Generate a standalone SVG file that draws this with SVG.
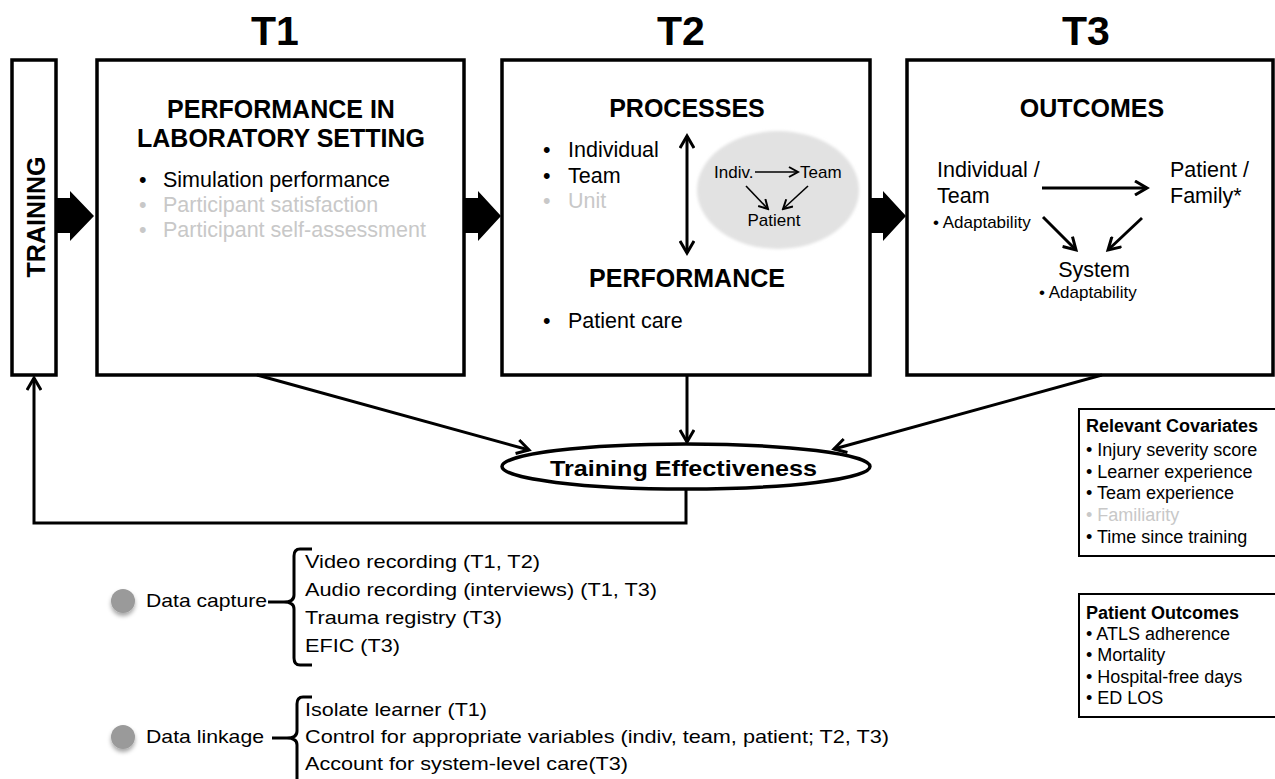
<svg xmlns="http://www.w3.org/2000/svg" width="1275" height="779" viewBox="0 0 1275 779">
  <style>
    text { font-family: "Liberation Sans", Arial, sans-serif; fill: #000; }
    .title { font-size: 41px; font-weight: bold; text-anchor: middle; }
    .head { font-size: 25px; font-weight: bold; text-anchor: middle; }
    .body { font-size: 21.5px; }
    .mid { font-size: 18px; }
    .small { font-size: 17px; }
    .faint { fill: #c8c8c8; }
    .box { fill: #fff; stroke: #000; stroke-width: 3.5; }
    .sbox { fill: #fff; stroke: #000; stroke-width: 2; }
    .conn { fill: none; stroke: #000; stroke-width: 3; }
    .thin { fill: none; stroke: #000; stroke-width: 1.6; }
    .block { fill: #000; }
    .list { font-size: 18.5px; }
    .dot { fill: #9a9a9a; }
  </style>
  <defs>
    <marker id="vee" viewBox="0 0 16 16" refX="13" refY="8" markerWidth="16" markerHeight="16" orient="auto" markerUnits="userSpaceOnUse">
      <path d="M1,1 L13,8 L1,15" fill="none" stroke="#000" stroke-width="3"/>
    </marker>
    <marker id="veeStart" viewBox="0 0 16 16" refX="3" refY="8" markerWidth="16" markerHeight="16" orient="auto" markerUnits="userSpaceOnUse">
      <path d="M15,1 L3,8 L15,15" fill="none" stroke="#000" stroke-width="3"/>
    </marker>
    <marker id="veeSmall" viewBox="0 0 12 12" refX="10" refY="6" markerWidth="12" markerHeight="12" orient="auto" markerUnits="userSpaceOnUse">
      <path d="M1,1 L10,6 L1,11" fill="none" stroke="#000" stroke-width="2"/>
    </marker>
    <filter id="shadow" x="-50%" y="-50%" width="200%" height="200%">
      <feDropShadow dx="0" dy="3" stdDeviation="2" flood-color="#000" flood-opacity="0.35"/>
    </filter>
    <filter id="soft" x="-10%" y="-10%" width="120%" height="120%">
      <feGaussianBlur stdDeviation="1.5"/>
    </filter>
  </defs>

  <!-- phase headings -->
  <text class="title" x="275" y="45">T1</text>
  <text class="title" x="681" y="45">T2</text>
  <text class="title" x="1086" y="45">T3</text>

  <!-- training column -->
  <g id="training">
    <rect class="box" x="12" y="60" width="44" height="315"/>
    <text x="45" y="217" font-size="25" font-weight="bold" text-anchor="middle" transform="rotate(-90 45 217)">TRAINING</text>
  </g>

  <!-- T1: laboratory performance -->
  <g id="t1">
    <rect class="box" x="97" y="60" width="367" height="315"/>
    <text class="head" x="281" y="118">PERFORMANCE IN</text>
    <text class="head" x="281" y="147">LABORATORY SETTING</text>
    <text class="body" x="139" y="187">•</text>
    <text class="body" x="163" y="187">Simulation performance</text>
    <text class="body faint" x="139" y="212">•</text>
    <text class="body faint" x="163" y="212">Participant satisfaction</text>
    <text class="body faint" x="139" y="237">•</text>
    <text class="body faint" x="163" y="237">Participant self-assessment</text>
  </g>

  <!-- T2: processes and performance -->
  <g id="t2">
    <rect class="box" x="502" y="60" width="368" height="315"/>
    <text class="head" x="687" y="117">PROCESSES</text>
    <text class="body" x="543" y="157">•</text>
    <text class="body" x="568" y="157">Individual</text>
    <text class="body" x="543" y="183">•</text>
    <text class="body" x="568" y="183">Team</text>
    <text class="body faint" x="543" y="208">•</text>
    <text class="body faint" x="568" y="208">Unit</text>
    <line class="conn" x1="687" y1="136" x2="687" y2="253" marker-start="url(#veeStart)" marker-end="url(#vee)"/>
    <ellipse cx="778" cy="190" rx="81" ry="59" fill="#e2e2e2" filter="url(#soft)"/>
    <text class="small" x="714" y="178">Indiv.</text>
    <text class="small" x="800" y="178">Team</text>
    <text class="small" x="774" y="226" text-anchor="middle">Patient</text>
    <line class="thin" x1="755" y1="172" x2="798" y2="172" marker-end="url(#veeSmall)"/>
    <line class="thin" x1="746" y1="186" x2="768" y2="209" marker-end="url(#veeSmall)"/>
    <line class="thin" x1="808" y1="186" x2="783" y2="209" marker-end="url(#veeSmall)"/>
    <text class="head" x="687" y="287">PERFORMANCE</text>
    <text class="body" x="543" y="328">•</text>
    <text class="body" x="568" y="328">Patient care</text>
  </g>

  <!-- T3: outcomes -->
  <g id="t3">
    <rect class="box" x="907" y="60" width="366" height="315"/>
    <text class="head" x="1092" y="117">OUTCOMES</text>
    <text class="body" x="937" y="177">Individual /</text>
    <text class="body" x="937" y="203">Team</text>
    <text class="small" x="933" y="228">• Adaptability</text>
    <text class="body" x="1170" y="177">Patient /</text>
    <text class="body" x="1170" y="203">Family*</text>
    <text class="body" x="1094" y="277" text-anchor="middle">System</text>
    <text class="small" x="1039" y="298">• Adaptability</text>
    <line class="conn" x1="1042" y1="188" x2="1147" y2="188" marker-end="url(#vee)"/>
    <line class="conn" x1="1043" y1="217" x2="1076" y2="250" marker-end="url(#vee)"/>
    <line class="conn" x1="1142" y1="218" x2="1108" y2="250" marker-end="url(#vee)"/>
  </g>

  <!-- outcome node -->
  <g id="effectiveness">
    <ellipse cx="686" cy="466.5" rx="184" ry="22.5" fill="#fff" stroke="#000" stroke-width="3.5"/>
    <text x="550" y="476" font-size="22" font-weight="bold" textLength="267" lengthAdjust="spacingAndGlyphs">Training Effectiveness</text>
  </g>

  <!-- side panels -->
  <g id="covariates">
    <rect class="sbox" x="1079" y="409" width="197" height="147"/>
    <text class="mid" x="1086" y="432" font-weight="bold">Relevant Covariates</text>
    <text class="mid" x="1086" y="456">• Injury severity score</text>
    <text class="mid" x="1086" y="478">• Learner experience</text>
    <text class="mid" x="1086" y="499">• Team experience</text>
    <text class="mid faint" x="1086" y="521">• Familiarity</text>
    <text class="mid" x="1086" y="543">• Time since training</text>
  </g>
  <g id="patient-outcomes">
    <rect class="sbox" x="1079" y="594" width="197" height="123"/>
    <text class="mid" x="1086" y="619" font-weight="bold">Patient Outcomes</text>
    <text class="mid" x="1086" y="640">• ATLS adherence</text>
    <text class="mid" x="1086" y="661">• Mortality</text>
    <text class="mid" x="1086" y="683">• Hospital-free days</text>
    <text class="mid" x="1086" y="704">• ED LOS</text>
  </g>

  <!-- connectors -->
  <g id="connectors">
    <polygon class="block" points="56,198 70,198 70,191 94,216 70,241 70,233 56,233"/>
    <polygon class="block" points="464,198 478,198 478,191 501,216 478,241 478,233 464,233"/>
    <polygon class="block" points="870,198 883,198 883,191 906,216 883,241 883,233 870,233"/>
    <line class="conn" x1="257" y1="375" x2="529" y2="450" marker-end="url(#vee)"/>
    <line class="conn" x1="687" y1="375" x2="687" y2="442" marker-end="url(#vee)"/>
    <line class="conn" x1="1102" y1="375" x2="834" y2="449" marker-end="url(#vee)"/>
    <path class="conn" d="M686,489 V523 H34 V378" marker-end="url(#vee)"/>
  </g>

  <!-- data capture -->
  <g id="data-capture">
    <circle class="dot" cx="123" cy="601" r="12" filter="url(#shadow)"/>
    <text class="list" x="146" y="607" textLength="121" lengthAdjust="spacingAndGlyphs">Data capture</text>
    <line class="conn" x1="268" y1="602" x2="284" y2="602"/>
    <path class="conn" d="M312,549 H300 Q294,549 294,556 V595 Q294,602 284,602 Q294,602 294,609 V658 Q294,665 300,665 H312"/>
    <text class="list" x="305" y="568" textLength="235" lengthAdjust="spacingAndGlyphs">Video recording (T1, T2)</text>
    <text class="list" x="305" y="596" textLength="352" lengthAdjust="spacingAndGlyphs">Audio recording (interviews) (T1, T3)</text>
    <text class="list" x="305" y="624" textLength="197" lengthAdjust="spacingAndGlyphs">Trauma registry (T3)</text>
    <text class="list" x="305" y="652" textLength="95" lengthAdjust="spacingAndGlyphs">EFIC (T3)</text>
  </g>

  <!-- data linkage -->
  <g id="data-linkage">
    <circle class="dot" cx="123" cy="737" r="12" filter="url(#shadow)"/>
    <text class="list" x="146" y="743" textLength="118" lengthAdjust="spacingAndGlyphs">Data linkage</text>
    <line class="conn" x1="272" y1="738" x2="287" y2="738"/>
    <path class="conn" d="M312,697 H303 Q297,697 297,704 V731 Q297,738 287,738 Q297,738 297,745 V782"/>
    <text class="list" x="305" y="716" textLength="182" lengthAdjust="spacingAndGlyphs">Isolate learner (T1)</text>
    <text class="list" x="305" y="743" textLength="584" lengthAdjust="spacingAndGlyphs">Control for appropriate variables (indiv, team, patient; T2, T3)</text>
    <text class="list" x="305" y="770" textLength="323" lengthAdjust="spacingAndGlyphs">Account for system-level care(T3)</text>
  </g>
</svg>
